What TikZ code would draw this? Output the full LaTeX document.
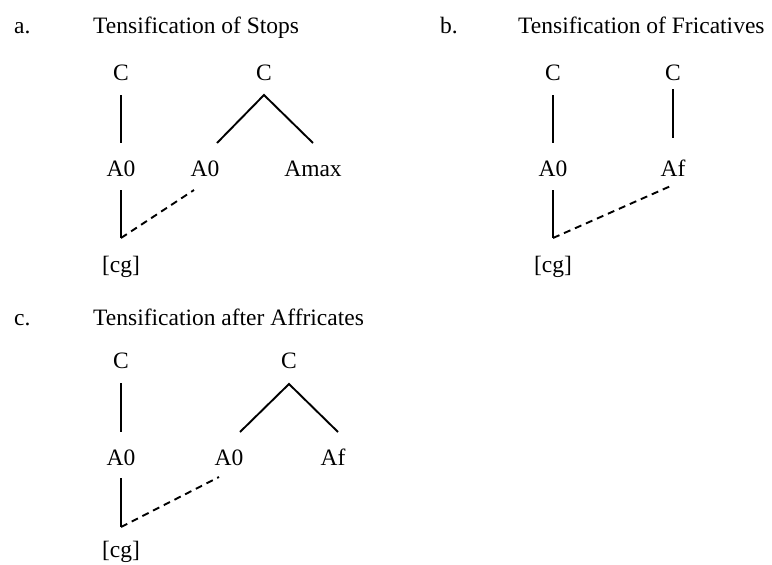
\documentclass[tikz,border=0pt]{standalone}
\usepackage{fontspec}
\setmainfont{Liberation Serif}
\begin{document}
\begin{tikzpicture}[x=1pt,y=-1pt,
  txt/.style={font=\fontsize{23.5}{28}\selectfont,inner sep=0pt},
  caption/.style={txt,anchor=base west},
  seg/.style={txt,anchor=base},
  assoc/.style={line width=1.9pt},
  delink/.style={line width=1.9pt,dash pattern=on 7pt off 5pt}]
\useasboundingbox (0,0) rectangle (772,565);

% ---- a. stops ----
\node[caption] (a-lab) at (14,33) {a.};
\node[caption] (a-ttl) at (93,33) {Tensification of Stops};
\node[seg] (a-c1) at (121,80) {C};
\node[seg] (a-c2) at (264,80) {C};
\node[seg] (a-a1) at (121,176) {A0};
\node[seg] (a-a2) at (205,176) {A0};
\node[seg] (a-am) at (313,176) {Amax};
\node[seg] (a-cg) at (121,272) {[cg]};
\coordinate (a-c1b) at (121,95);  \coordinate (a-a1t) at (121,143);
\coordinate (a-c2b) at (264,95);
\coordinate (a-a2t) at (217,143); \coordinate (a-amt) at (313,143);
\coordinate (a-a1b) at (121,190); \coordinate (a-knee) at (121,238);
\coordinate (a-a2b) at (194,190);
\draw[assoc] (a-c1b) -- (a-a1t);
\draw[assoc] (a-a2t) -- (a-c2b) -- (a-amt);
\draw[assoc] (a-a1b) -- (a-knee);
\draw[delink] (a-knee) -- (a-a2b);

% ---- b. fricatives ----
\node[caption] (b-lab) at (440,33) {b.};
\node[caption] (b-ttl) at (518,33) {Tensification of Fricatives};
\node[seg] (b-c1) at (553,80) {C};
\node[seg] (b-c2) at (673,80) {C};
\node[seg] (b-a1) at (553,176) {A0};
\node[seg] (b-af) at (673,176) {Af};
\node[seg] (b-cg) at (553,272) {[cg]};
\coordinate (b-c1b) at (553,95);  \coordinate (b-a1t) at (553,143);
\coordinate (b-c2b) at (673,89);  \coordinate (b-aft) at (673,138);
\coordinate (b-a1b) at (553,190); \coordinate (b-knee) at (553,238);
\coordinate (b-afb) at (673,185);
\draw[assoc] (b-c1b) -- (b-a1t);
\draw[assoc] (b-c2b) -- (b-aft);
\draw[assoc] (b-a1b) -- (b-knee);
\draw[delink] (b-knee) -- (b-afb);

% ---- c. affricates ----
\node[caption] (c-lab) at (14,325) {c.};
\node[caption] (c-ttl) at (93,325) {Tensification after Affricates};
\node[seg] (c-c1) at (121,368) {C};
\node[seg] (c-c2) at (289,368) {C};
\node[seg] (c-a1) at (121,465) {A0};
\node[seg] (c-a2) at (229,465) {A0};
\node[seg] (c-af) at (333,465) {Af};
\node[seg] (c-cg) at (121,557) {[cg]};
\coordinate (c-c1b) at (121,383); \coordinate (c-a1t) at (121,432);
\coordinate (c-c2b) at (289,384);
\coordinate (c-a2t) at (240,432); \coordinate (c-aft) at (338,432);
\coordinate (c-a1b) at (121,478); \coordinate (c-knee) at (121,527);
\coordinate (c-a2b) at (219,477);
\draw[assoc] (c-c1b) -- (c-a1t);
\draw[assoc] (c-a2t) -- (c-c2b) -- (c-aft);
\draw[assoc] (c-a1b) -- (c-knee);
\draw[delink] (c-knee) -- (c-a2b);
\end{tikzpicture}
\end{document}
